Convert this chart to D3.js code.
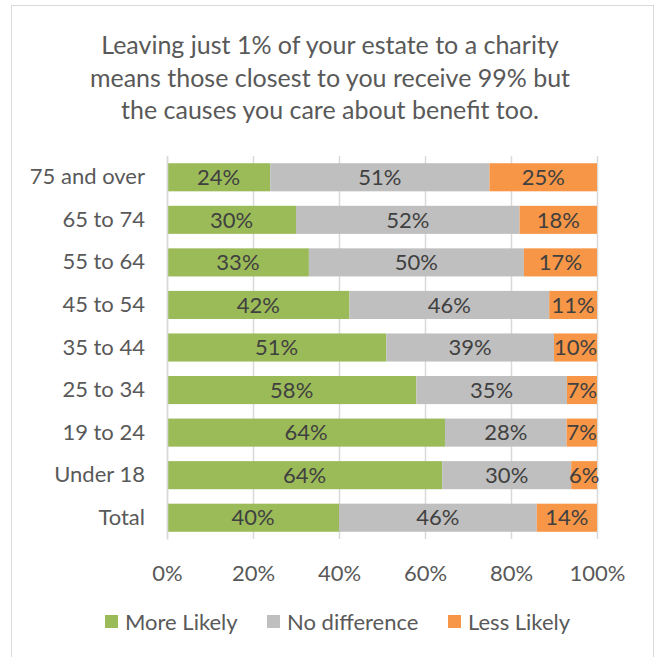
<!DOCTYPE html>
<html>
<head>
<meta charset="utf-8">
<script src="https://cdn.jsdelivr.net/npm/d3@7"></script>
<style>
  body { margin: 0; background: #fff; }
  svg text { font-family: Lato, "Open Sans", sans-serif; }
</style>
</head>
<body>
<div id="chart"></div>
<script>
// data
const categories = ["75 and over", "65 to 74", "55 to 64", "45 to 54", "35 to 44", "25 to 34", "19 to 24", "Under 18", "Total"];
const moreLikely   = [24, 30, 33, 42, 51, 58, 64, 64, 40];
const noDifference = [51, 52, 50, 46, 39, 35, 28, 30, 46];
const lessLikely   = [25, 18, 17, 11, 10, 7, 7, 6, 14];
const seriesNames = ["More Likely", "No difference", "Less Likely"];
const seriesColors = ["#9BBB59", "#BFBFBF", "#F79646"];
const tickValues = [0, 0.2, 0.4, 0.6, 0.8, 1];
const titleLines = [
  "Leaving just 1% of your estate to a charity",
  "means those closest to you receive 99% but",
  "the causes you care about benefit too."
];

const width = 657, height = 657;
const margin = { top: 156, right: 60, bottom: 118, left: 167 };
const fontSize = "22px";

const rows = categories.map((c, i) => ({
  cat: c,
  "More Likely": moreLikely[i],
  "No difference": noDifference[i],
  "Less Likely": lessLikely[i]
}));

const stacked = d3.stack()
  .keys(seriesNames)
  .offset(d3.stackOffsetExpand)(rows);

const svg = d3.select("#chart").append("svg")
  .attr("width", width)
  .attr("height", height);

// chart border
svg.append("rect")
  .attr("x", 11.5).attr("y", 5.5)
  .attr("width", 642).attr("height", 660)
  .attr("fill", "#fff")
  .attr("stroke", "#d9d9d9");

// title
svg.append("text")
  .attr("text-anchor", "middle")
  .attr("fill", "#595959")
  .style("font-size", "25px")
  .selectAll("tspan")
  .data(titleLines)
  .join("tspan")
  .attr("x", 330)
  .attr("y", (d, i) => 54 + i * 32.5)
  .text(d => d);

const x = d3.scaleLinear()
  .domain([0, 1])
  .range([margin.left, width - margin.right]);

const y = d3.scaleBand()
  .domain(categories)
  .range([margin.top, height - margin.bottom])
  .paddingInner(0.34)
  .paddingOuter(0.17);

// vertical gridlines
svg.append("g")
  .selectAll("line")
  .data(tickValues)
  .join("line")
  .attr("x1", d => Math.round(x(d)) + 0.5)
  .attr("x2", d => Math.round(x(d)) + 0.5)
  .attr("y1", margin.top)
  .attr("y2", height - margin.bottom)
  .attr("stroke", "#d9d9d9")
  .attr("stroke-width", 1.5);

// bars
const layer = svg.append("g")
  .selectAll("g")
  .data(stacked)
  .join("g")
  .attr("fill", (d, i) => seriesColors[i]);

layer.selectAll("rect")
  .data(d => d)
  .join("rect")
  .attr("x", d => x(d[0]))
  .attr("y", d => y(d.data.cat))
  .attr("width", d => x(d[1]) - x(d[0]))
  .attr("height", y.bandwidth());

// data labels
layer.selectAll("text")
  .data(d => d.map(v => ({ v, key: d.key })))
  .join("text")
  .attr("x", d => (x(d.v[0]) + x(d.v[1])) / 2)
  .attr("y", d => y(d.v.data.cat) + y.bandwidth() / 2)
  .attr("dy", "0.35em")
  .attr("text-anchor", "middle")
  .attr("fill", "#404040")
  .style("font-size", fontSize)
  .text(d => d.v.data[d.key] + "%");

// category axis
const yAxis = svg.append("g")
  .attr("transform", `translate(${margin.left},0)`)
  .call(d3.axisLeft(y).tickSize(0).tickPadding(22));
yAxis.select(".domain").attr("stroke", "#d9d9d9").attr("stroke-width", 1.5);
yAxis.selectAll("text")
  .attr("fill", "#595959")
  .style("font-size", fontSize)
  .style("font-family", "Lato, 'Open Sans', sans-serif");

// value axis
const xAxis = svg.append("g")
  .attr("transform", `translate(0,${height - margin.bottom})`)
  .call(d3.axisBottom(x).tickValues(tickValues).tickFormat(d3.format(".0%")).tickSize(0).tickPadding(26));
xAxis.select(".domain").remove();
xAxis.selectAll("text")
  .attr("fill", "#595959")
  .style("font-size", fontSize)
  .style("font-family", "Lato, 'Open Sans', sans-serif");

// legend
const legendX = [105, 267, 448];
const legend = svg.append("g")
  .selectAll("g")
  .data(seriesNames)
  .join("g")
  .attr("transform", (d, i) => `translate(${legendX[i]},622)`);
legend.append("rect")
  .attr("x", 0).attr("y", -7)
  .attr("width", 13).attr("height", 13)
  .attr("fill", (d, i) => seriesColors[i]);
legend.append("text")
  .attr("x", 20)
  .attr("dy", "0.35em")
  .attr("fill", "#595959")
  .style("font-size", fontSize)
  .text(d => d);
</script>
</body>
</html>
